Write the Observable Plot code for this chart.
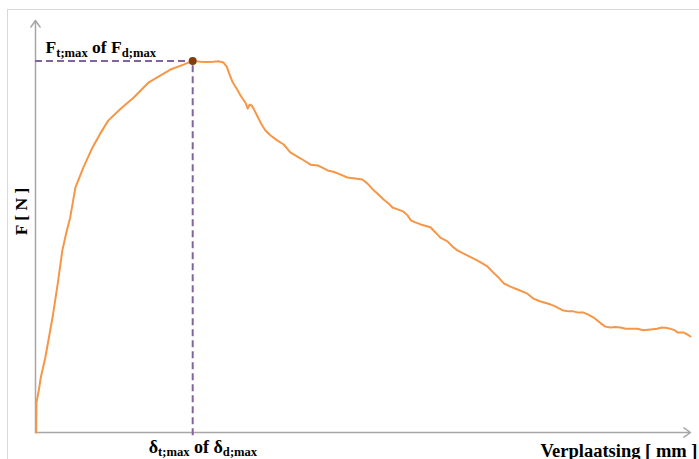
<!DOCTYPE html>
<html><head><meta charset="utf-8">
<script src="https://cdn.jsdelivr.net/npm/d3@7"></script>
<script src="https://cdn.jsdelivr.net/npm/@observablehq/plot@0.6"></script>
<style>
body{margin:0;background:#fff;}
#wrap{position:relative;width:699px;height:459px;overflow:hidden;background:#fff;}
#wrap svg{position:absolute;left:0;top:0;}
#frame{position:absolute;left:7px;top:9px;width:720px;height:480px;border:1.5px solid #d9d9d9;box-sizing:border-box;pointer-events:none;}
</style></head><body><div id="wrap"></div>
<script>
// Displacement (arbitrary units, 0–100) and force (arbitrary units, 0–100)
const displacement = [0.1,0.15,0.5,0.8,1.5,2.6,3.4,4.1,4.7,5.3,6.1,7.3,8.7,9.9,11.1,13.0,15.0,17.3,19.1,20.6,22.6,24.0,
  25.2,26.1,27.2,27.9,28.7,29.2,29.5,30.1,30.7,31.3,32.1,32.4,32.7,33.0,33.3,33.9,34.5,35.1,35.9,36.9,37.9,38.9,40.5,42.0,43.1,43.8,44.6,45.5,46.6,47.6,48.5,49.9,
  50.7,51.5,52.2,53.1,53.9,54.5,55.4,56.2,56.8,57.3,58.0,58.8,60.3,61.1,61.8,62.9,63.7,64.4,65.9,67.5,69.0,69.9,70.7,71.5,72.5,73.6,75.1,76.0,77.1,78.2,79.1,
  80.6,81.4,82.1,82.9,83.7,84.4,85.2,86.3,87.0,87.8,88.5,89.3,90.1,90.8,91.9,92.8,93.9,94.9,95.6,96.2,96.9,97.6,98.0,98.9,99.5,100];
const force = [0,7.3,10.2,13.3,18.2,27.9,36.2,44.2,48.5,52.2,59.5,64.3,69.2,72.6,75.7,78.6,81.3,85.0,86.7,88.1,89.3,90.2,
  90.0,89.9,90.0,90.1,89.8,88.8,87.4,85.0,83.5,81.8,79.9,78.6,79.6,79.4,78.6,76.7,74.8,73.3,72.1,70.9,69.9,68.0,66.5,65.0,64.8,64.3,63.6,63.3,62.6,61.9,61.7,61.4,
  60.4,59.0,58.0,56.6,55.6,54.6,54.1,53.6,52.7,51.5,51.0,50.5,49.8,48.5,47.3,46.4,45.1,44.2,43.0,41.7,40.3,38.8,37.6,36.2,35.4,34.7,33.7,32.5,31.8,31.3,30.8,
  29.6,29.4,29.4,29.1,29.1,28.6,27.9,26.5,25.7,25.5,25.6,25.5,25.2,25.2,25.2,24.8,25.0,25.2,25.5,25.4,25.2,24.8,24.3,24.3,23.8,23.3];

const xLabel = "Verplaatsing [ mm ]";
const yLabel = "F [ N ]";
const peakLabelParts = [["F",0],["t;max",1],[" of F",0],["d;max",1]];
const dispLabelParts = [["δ",0],["t;max",1],[" of δ",0],["d;max",1]];

const curveColor = "#f79646";
const guideColor = "#8064a2";
const axisColor = "#a6a6a6";

const data = displacement.map((x, i) => ({x, y: force[i]}));
const pk = data[d3.maxIndex(data, d => d.y)];
const joinParts = p => p.map(d => d[0]).join("");

const chart = Plot.plot({
  width: 699, height: 459,
  marginLeft: 35, marginRight: 9, marginTop: 20, marginBottom: 27,
  x: {domain: [0, 100], axis: null},
  y: {domain: [0, 100], axis: null},
  style: {background: "transparent", fontFamily: "'Liberation Serif','Times New Roman',serif"},
  marks: [
    Plot.arrow([0], {x1: 0, y1: 0, x2: 0, y2: 100, stroke: axisColor, strokeWidth: 1.5, headLength: 8, headAngle: 70}),
    Plot.arrow([0], {x1: 0, y1: 0, x2: 100, y2: 0, stroke: axisColor, strokeWidth: 1.5, headLength: 8, headAngle: 70}),
    Plot.ruleY([pk], {x1: 0, x2: d => d.x, y: d => d.y, stroke: guideColor, strokeWidth: 2, strokeDasharray: "7,4"}),
    Plot.ruleX([pk], {x: d => d.x, y1: -0.8, y2: d => d.y, stroke: guideColor, strokeWidth: 2, strokeDasharray: "7,4"}),
    Plot.line(data, {x: "x", y: "y", stroke: curveColor, strokeWidth: 2}),
    Plot.dot([pk], {x: "x", y: "y", r: 4, fill: "#843c0c", stroke: "none"}),
    Plot.text([joinParts(peakLabelParts)], {x: 0, y: pk.y, text: d => d, dx: 10, dy: -7.5, lineAnchor: "bottom", textAnchor: "start", fontSize: 17.5, fontWeight: "bold", fill: "#000"}),
    Plot.text([joinParts(dispLabelParts)], {x: pk.x, y: 0, text: d => d, dx: -44, dy: 20, lineAnchor: "bottom", textAnchor: "start", fontSize: 18, fontWeight: "bold", fill: "#000"}),
    Plot.text([xLabel], {x: 100, y: 0, text: d => d, dx: 7, dy: 24, lineAnchor: "bottom", textAnchor: "end", fontSize: 18.5, fontWeight: "bold", fill: "#000"}),
    Plot.text([yLabel], {frameAnchor: "left", text: d => d, rotate: -90, dx: -14, dy: -15, textAnchor: "middle", lineAnchor: "middle", fontSize: 17.5, fontWeight: "bold", fill: "#000"})
  ]
});

// turn subscripts into tspans
const subs = {};
subs[joinParts(peakLabelParts)] = peakLabelParts;
subs[joinParts(dispLabelParts)] = dispLabelParts;
d3.select(chart).selectAll("text").each(function() {
  const parts = subs[this.textContent];
  if (!parts) return;
  const sel = d3.select(this);
  const fs = parseFloat(sel.attr("font-size")) || 17.5;
  sel.text(null).attr("xml:space", "preserve");
  let prevSub = 0;
  for (const [t, s] of parts) {
    const ts = sel.append("tspan").text(t);
    if (s) ts.attr("font-size", Math.round(fs * 0.72 * 10) / 10);
    const dy = s && !prevSub ? 3.5 : (!s && prevSub ? -3.5 : 0);
    if (dy) ts.attr("dy", dy);
    prevSub = s;
  }
});

const wrap = document.getElementById("wrap");
wrap.appendChild(chart);
const frame = document.createElement("div");
frame.id = "frame";
wrap.appendChild(frame);
</script>
</body></html>
